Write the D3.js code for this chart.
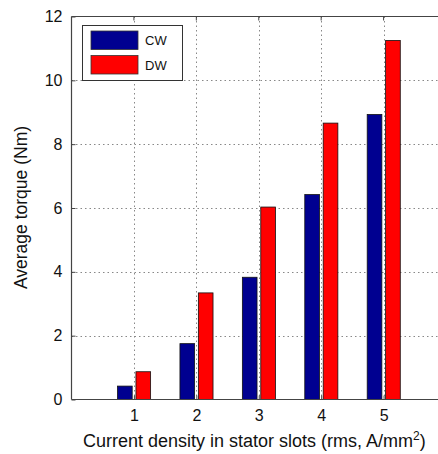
<!DOCTYPE html>
<html><head><meta charset="utf-8">
<script src="https://cdn.jsdelivr.net/npm/d3@7"></script>
<style>body{margin:0;background:#fff}svg{display:block}text{font-family:"Liberation Sans",Arial,sans-serif}</style>
</head><body><svg id="c" width="438" height="454"></svg>
<script>
const categories = [1, 2, 3, 4, 5];
const seriesNames = ["CW", "DW"];
const cwValues = [0.42, 1.75, 3.83, 6.42, 8.93];
const dwValues = [0.87, 3.34, 6.03, 8.66, 11.25];
const yTicks = [0, 2, 4, 6, 8, 10, 12];
const colors = ["#000090", "#ff0000"];

const svg = d3.select("#c");
const L = 71.5, R = 446, T = 16.5, B = 399.5;
const x = d3.scaleLinear().domain([0, 6]).range([L, R]);
const y = d3.scaleLinear().domain([0, 12]).range([B, T]);

// grid
const grid = svg.append("g").attr("stroke", "#888").attr("stroke-dasharray", "1.5,3").attr("stroke-width", 1);
categories.forEach(c => grid.append("line").attr("x1", Math.round(x(c)) + 0.5).attr("x2", Math.round(x(c)) + 0.5).attr("y1", T).attr("y2", B));
yTicks.slice(1, -1).forEach(t => grid.append("line").attr("x1", L).attr("x2", R).attr("y1", Math.round(y(t)) + 0.5).attr("y2", Math.round(y(t)) + 0.5));

// bars
const series = [cwValues, dwValues];
const offsets = [-0.145, 0.15];
const bw = 0.235;
series.forEach((vals, i) => {
  svg.append("g").selectAll("rect").data(vals).join("rect")
    .attr("x", (d, j) => x(categories[j] + offsets[i] - bw / 2))
    .attr("width", x(bw) - x(0))
    .attr("y", d => y(d))
    .attr("height", d => y(0) - y(d))
    .attr("fill", colors[i]).attr("stroke", "#111").attr("stroke-width", 0.8);
});

// axes
const ax = svg.append("g").attr("stroke", "#444").attr("stroke-width", 1.2).attr("fill", "none");
ax.append("line").attr("x1", L).attr("x2", L).attr("y1", T).attr("y2", B);
ax.append("line").attr("x1", L).attr("x2", 438).attr("y1", B).attr("y2", B);
ax.append("line").attr("x1", L).attr("x2", 438).attr("y1", T).attr("y2", T);

const FONT = '"Liberation Sans",Arial,sans-serif';
const yAxis = d3.axisLeft(y).tickValues(yTicks).tickSize(-4).tickPadding(9).tickFormat(d3.format("d"));
const gy = svg.append("g").attr("transform", `translate(${L},0)`).call(yAxis);
gy.select(".domain").remove();
gy.selectAll("line").attr("stroke", "#444");
gy.selectAll("text").attr("font-size", 16).attr("fill", "#111").attr("font-family", FONT);

const xAxis = d3.axisBottom(x).tickValues(categories).tickSize(-4).tickPadding(10).tickFormat(d3.format("d"));
const gx = svg.append("g").attr("transform", `translate(0,${B})`).call(xAxis);
gx.select(".domain").remove();
gx.selectAll("line").attr("stroke", "#444");
gx.selectAll("text").attr("font-size", 16).attr("fill", "#111").attr("font-family", FONT);
// top ticks
categories.forEach(c => svg.append("line").attr("x1", x(c)).attr("x2", x(c)).attr("y1", T).attr("y2", T + 4).attr("stroke", "#444"));

// labels
svg.append("text").attr("transform", "translate(27,207.5) rotate(-90)").attr("text-anchor", "middle")
  .attr("font-size", 17.5).attr("fill", "#111").text("Average torque (Nm)");
const xl = svg.append("text").attr("x", 83).attr("y", 447).attr("text-anchor", "start").attr("font-size", 18).attr("fill", "#111");
xl.append("tspan").text("Current density in stator slots (rms, A/mm");
xl.append("tspan").attr("dy", -7).attr("font-size", 12).text("2");
xl.append("tspan").attr("dy", 7).text(")");

// legend
const lg = svg.append("g");
lg.append("rect").attr("x", 82.5).attr("y", 25.5).attr("width", 100).attr("height", 55).attr("fill", "#fff").attr("stroke", "#333").attr("stroke-width", 1);
seriesNames.forEach((n, i) => {
  lg.append("rect").attr("x", 91).attr("y", 31 + i * 24.5).attr("width", 47).attr("height", 18.5).attr("fill", colors[i]).attr("stroke", "#333").attr("stroke-width", 0.8);
  lg.append("text").attr("x", 145).attr("y", 45 + i * 24.5).attr("font-size", 13).attr("fill", "#111").text(n);
});
</script></body></html>
